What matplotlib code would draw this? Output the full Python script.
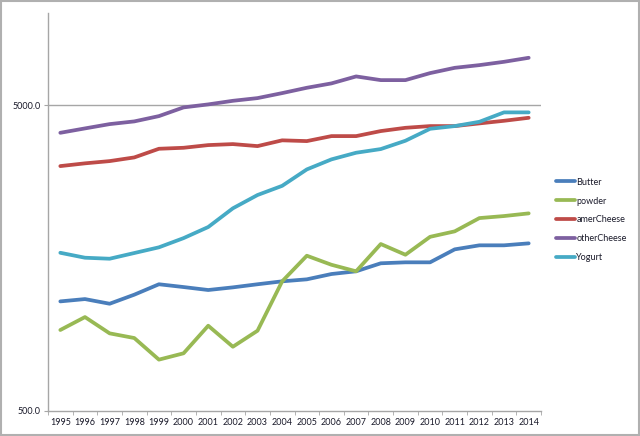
import matplotlib
matplotlib.use("Agg")
import matplotlib.pyplot as plt
from matplotlib.patches import Rectangle
from matplotlib.ticker import FixedLocator, NullLocator

years = list(range(1995, 2015))
butter = [1141, 1161, 1121, 1200, 1298, 1271, 1243, 1268, 1298, 1327,
          1347, 1402, 1431, 1520, 1531, 1531, 1688, 1740, 1740, 1766]
powder = [920, 1014, 897, 866, 736, 772, 950, 811, 915, 1327,
          1609, 1503, 1431, 1757, 1621, 1855, 1933, 2136, 2169, 2213]
amer_cheese = [3159, 3225, 3280, 3372, 3599, 3626, 3700, 3728, 3672, 3835,
               3813, 3959, 3959, 4112, 4214, 4269, 4269, 4356, 4443, 4544]
other_cheese = [4059, 4195, 4333, 4422, 4602, 4914, 5026, 5164, 5270, 5472,
                5696, 5887, 6204, 6034, 6034, 6361, 6619, 6755, 6926, 7138]
yogurt = [1645, 1585, 1573, 1642, 1714, 1837, 1997, 2299, 2541, 2723,
          3081, 3323, 3493, 3591, 3823, 4183, 4269, 4409, 4733, 4733]

series_names = ["Butter", "powder", "amerCheese", "otherCheese", "Yogurt"]
series_values = [butter, powder, amer_cheese, other_cheese, yogurt]
colors = ["#4A7EBB", "#98B954", "#BE4B48", "#7D60A0", "#46AAC5"]
y_ticks = [500, 5000]
y_tick_labels = ["500.0", "5000.0"]

plt.rcParams['font.family'] = ['Lato', 'DejaVu Sans']
text_color = '#1a1a2a'

fig = plt.figure(figsize=(6.4, 4.36), dpi=100)
ax = fig.add_axes([48/640, 1 - 411/436, (541-48)/640, (411-13)/436])

x = list(range(len(years)))
for name, vals, c in zip(series_names, series_values, colors):
    ax.plot(x, vals, color=c, lw=2.7, label=name, solid_capstyle='round',
            solid_joinstyle='round')

ax.set_yscale('log')
ax.set_ylim(500, 10000)
ax.yaxis.set_major_locator(FixedLocator(y_ticks))
ax.yaxis.set_minor_locator(NullLocator())
ax.set_yticklabels(y_tick_labels)
ax.axhline(5000, color='#A6A6A6', lw=1.0, zorder=0)

ax.set_xlim(-0.5, len(years) - 0.5)
ax.set_xticks(x)
ax.set_xticklabels([str(y) for y in years])
ax.set_xticks([i - 0.5 for i in range(len(years) + 1)], minor=True)
ax.tick_params(axis='x', which='major', length=0, labelsize=6.5, pad=5,
               labelcolor=text_color)
ax.tick_params(axis='x', which='minor', length=3, color='#A6A6A6', direction='out')
ax.tick_params(axis='y', which='major', length=3, color='#A6A6A6', labelsize=6.5, pad=2,
               labelcolor=text_color)

for s in ['top', 'right']:
    ax.spines[s].set_visible(False)
for s in ['left', 'bottom']:
    ax.spines[s].set_color('#A6A6A6')
    ax.spines[s].set_linewidth(1.0)

leg = fig.legend(loc='upper left', bbox_to_anchor=(552/640, 1 - 174/436), frameon=False,
                 fontsize=6.5, handlelength=2.2, handletextpad=0.1, labelspacing=1.1,
                 borderaxespad=0)
for t in leg.get_texts():
    t.set_color(text_color)

fig.patches.append(Rectangle((0.001, 0.002), 0.997, 0.996, transform=fig.transFigure,
                             fill=False, edgecolor='#B0B0B0', lw=1.5))

fig.savefig('out.png', dpi=100)
